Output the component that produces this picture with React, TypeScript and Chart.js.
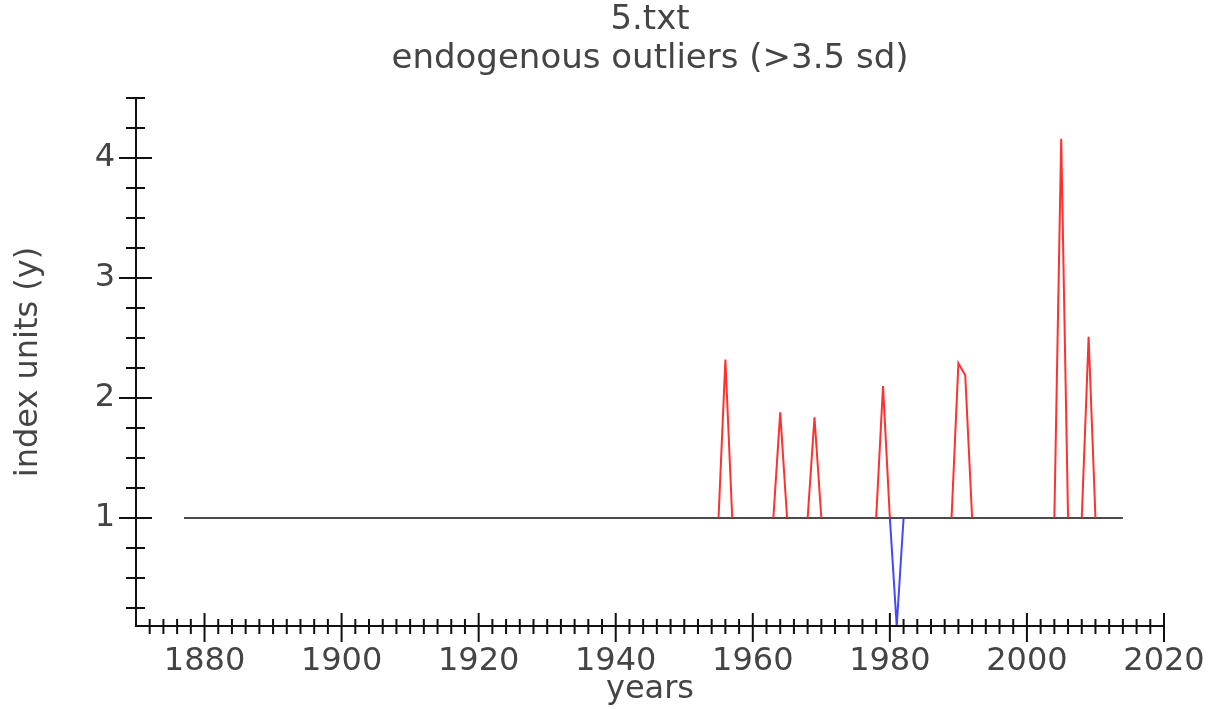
import React, { useEffect, useRef } from 'react';
import { Chart, registerables } from 'chart.js';

Chart.register(...registerables);

const titleLines = ['5.txt', 'endogenous outliers (>3.5 sd)'];
const xAxisTitle = 'years';
const yAxisTitle = 'index units (y)';

const xTickLabels = [1880, 1900, 1920, 1940, 1960, 1980, 2000, 2020];
const yTickLabels = [1, 2, 3, 4];

const xRange = [1870, 2020];
const yRange = [0.1, 4.5];
const xMinorStep = 2;
const yMinorStep = 0.25;

const baselineYears = [1877, 2014];
const baselineValues = [1, 1];

const highYears = [
  1955, 1956, 1957,
  1963, 1964, 1965,
  1968, 1969, 1970,
  1978, 1979, 1980,
  1989, 1990, 1991, 1992,
  2004, 2005, 2006,
  2008, 2009, 2010,
];
const highValues = [
  1, 2.32, 1,
  1, 1.88, 1,
  1, 1.84, 1,
  1, 2.1, 1,
  1, 2.29, 2.19, 1,
  1, 4.16, 1,
  1, 2.51, 1,
];

const lowYears = [1980, 1981, 1982];
const lowValues = [1, 0.1, 1];

const FONT = '"DejaVu Sans", sans-serif';
const TEXT = '#444';

const toPoints = (xs: number[], ys: number[]) => xs.map((x, i) => ({ x, y: ys[i] }));

const axesPlugin = {
  id: 'idlAxes',
  afterDatasetsDraw(chart: any) {
    const { ctx, scales } = chart;
    const xs = scales.x;
    const ys = scales.y;
    const x0 = xs.getPixelForValue(xs.min);
    const x1 = xs.getPixelForValue(xs.max);
    const yb = ys.getPixelForValue(ys.min);
    const yt = ys.getPixelForValue(ys.max);
    ctx.save();
    ctx.strokeStyle = '#111';
    ctx.lineWidth = 2;
    ctx.beginPath();
    ctx.moveTo(x0, yt);
    ctx.lineTo(x0, yb);
    ctx.lineTo(x1, yb);
    for (let v = xRange[0] + xMinorStep; v <= xRange[1] + 1e-9; v += xMinorStep) {
      const px = xs.getPixelForValue(v);
      const major = xTickLabels.includes(v);
      ctx.moveTo(px, yb - (major ? 13 : 7));
      ctx.lineTo(px, yb + (major ? 16 : 8));
    }
    const n = Math.round(yRange[1] / yMinorStep);
    for (let i = 1; i <= n; i++) {
      const v = i * yMinorStep;
      if (v < yRange[0]) continue;
      const py = ys.getPixelForValue(v);
      const major = yTickLabels.includes(v);
      ctx.moveTo(x0 - (major ? 17 : 10), py);
      ctx.lineTo(x0 + (major ? 16 : 9), py);
    }
    ctx.stroke();
    ctx.restore();
  },
};

export default function App() {
  const ref = useRef<HTMLCanvasElement | null>(null);

  useEffect(() => {
    if (!ref.current) return;
    const red = 'rgba(255,25,25,0.9)';
    const chart = new Chart(ref.current, {
      type: 'line',
      data: {
        datasets: [
          {
            label: 'high outliers',
            data: toPoints(highYears, highValues),
            borderColor: red,
            borderWidth: 2,
            pointRadius: 0,
            tension: 0,
            segment: {
              borderColor: (c: any) =>
                c.p0.parsed.y === 1 && c.p1.parsed.y === 1 ? 'rgba(0,0,0,0)' : red,
            },
          },
          {
            label: 'low outliers',
            data: toPoints(lowYears, lowValues),
            borderColor: 'rgba(50,50,255,0.9)',
            borderWidth: 2,
            pointRadius: 0,
            tension: 0,
          },
          {
            label: 'baseline',
            data: toPoints(baselineYears, baselineValues),
            borderColor: '#4a4a4a',
            borderWidth: 2,
            pointRadius: 0,
            tension: 0,
          },
        ],
      },
      options: {
        animation: false,
        responsive: true,
        maintainAspectRatio: false,
        layout: { padding: { left: 0, right: 52, top: 0, bottom: 0 } },
        plugins: {
          legend: { display: false },
          tooltip: { enabled: false },
          title: {
            display: true,
            text: titleLines,
            fullSize: false,
            color: TEXT,
            font: { family: FONT, size: 34, weight: 'normal', lineHeight: 39 / 34 },
            padding: { top: 1, bottom: 19 },
          },
        },
        scales: {
          x: {
            type: 'linear',
            min: xRange[0],
            max: xRange[1],
            afterBuildTicks: (s: any) => {
              s.ticks = xTickLabels.map((v) => ({ value: v }));
            },
            afterFit: (s: any) => {
              s.height = 83;
              s.paddingLeft = 0;
              s.paddingRight = 0;
            },
            grid: { display: false, drawTicks: false },
            border: { display: false },
            ticks: {
              padding: 16,
              autoSkip: false,
              maxRotation: 0,
              color: TEXT,
              font: { family: FONT, size: 32 },
              callback: (v: any) => String(v),
            },
            title: {
              display: true,
              text: xAxisTitle,
              color: TEXT,
              font: { family: FONT, size: 32 },
              padding: { top: 0, bottom: 0 },
            },
          },
          y: {
            type: 'linear',
            min: yRange[0],
            max: yRange[1],
            afterBuildTicks: (s: any) => {
              s.ticks = yTickLabels.map((v) => ({ value: v }));
            },
            afterFit: (s: any) => {
              s.width = 136;
            },
            grid: { display: false, drawTicks: false },
            border: { display: false },
            ticks: {
              padding: 21,
              color: TEXT,
              font: { family: FONT, size: 32 },
              callback: (v: any) => String(v),
            },
            title: {
              display: true,
              text: yAxisTitle,
              color: TEXT,
              font: { family: FONT, size: 32 },
              padding: { top: 9, bottom: 0 },
            },
          },
        },
      },
      plugins: [axesPlugin],
    } as any);
    return () => chart.destroy();
  }, []);

  return (
    <div style={{ position: 'absolute', left: 0, top: 0, width: 1216, height: 709, background: '#fff' }}>
      <canvas ref={ref} />
    </div>
  );
}
